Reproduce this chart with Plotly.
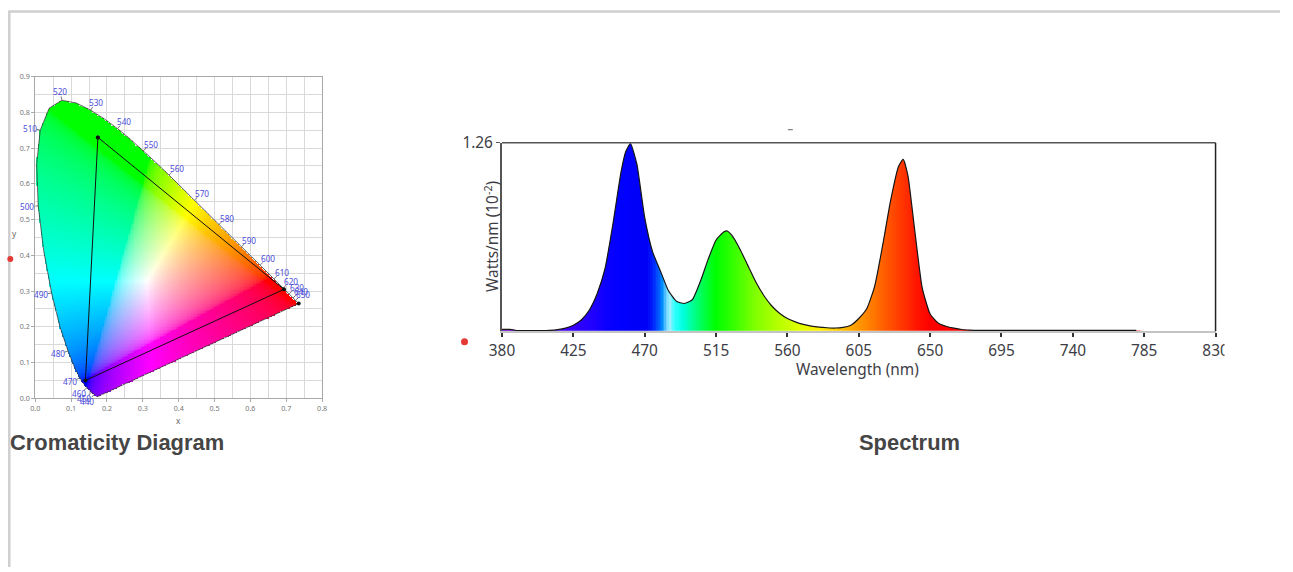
import numpy as np
import plotly.graph_objects as go

W, H = 1293, 572

# ---------------- CIE 1931 chromaticity data ----------------
locus_nm = list(range(380, 705, 5))
locus_x = [0.1741, 0.1740, 0.1738, 0.1736, 0.1733, 0.1730, 0.1726, 0.1721, 0.1714,
           0.1703, 0.1689, 0.1669, 0.1644, 0.1611, 0.1566, 0.1510, 0.1440, 0.1355, 0.1241,
           0.1096, 0.0913, 0.0687, 0.0454, 0.0235, 0.0082, 0.0039, 0.0139, 0.0389, 0.0743,
           0.1142, 0.1547, 0.1929, 0.2296, 0.2658, 0.3016, 0.3373, 0.3731, 0.4087, 0.4441,
           0.4788, 0.5125, 0.5448, 0.5752, 0.6029, 0.6270, 0.6482, 0.6658, 0.6801, 0.6915,
           0.7006, 0.7079, 0.7140, 0.7190, 0.7230, 0.7260, 0.7283, 0.7300, 0.7311, 0.7320,
           0.7327, 0.7334, 0.7340, 0.7344, 0.7346, 0.7347]
locus_y = [0.0050, 0.0050, 0.0049, 0.0049, 0.0048, 0.0048, 0.0048, 0.0048, 0.0051,
           0.0058, 0.0069, 0.0086, 0.0109, 0.0138, 0.0177, 0.0227, 0.0297, 0.0399, 0.0578,
           0.0868, 0.1327, 0.2007, 0.2950, 0.4127, 0.5384, 0.6548, 0.7502, 0.8120, 0.8338,
           0.8262, 0.8059, 0.7816, 0.7543, 0.7243, 0.6923, 0.6589, 0.6245, 0.5896, 0.5547,
           0.5202, 0.4866, 0.4544, 0.4242, 0.3965, 0.3725, 0.3514, 0.3340, 0.3197, 0.3083,
           0.2993, 0.2920, 0.2859, 0.2809, 0.2770, 0.2740, 0.2717, 0.2700, 0.2689, 0.2680,
           0.2673, 0.2666, 0.2660, 0.2656, 0.2654, 0.2653]
label_nm = [440, 450, 460, 470, 480, 490, 500, 510, 520, 530, 540, 550, 560, 570,
            580, 590, 600, 610, 620, 630, 640, 650]
tri_x = [0.1746, 0.6936, 0.1400]
tri_y = [0.7300, 0.3050, 0.0500]
cie_ticks = [0.0, 0.1, 0.2, 0.3, 0.4, 0.5, 0.6, 0.7, 0.8]
cie_yticks = [0.0, 0.1, 0.2, 0.3, 0.4, 0.5, 0.6, 0.7, 0.8, 0.9]

# ---------------- Spectrum data ----------------
spec_nm = [380, 385, 390, 395, 400, 405, 410, 415, 420, 425, 430, 435, 440, 445, 450,
           455, 458, 461, 465, 470, 475, 480, 485, 490, 495, 500, 505, 510, 515, 520,
           522, 525, 530, 535, 540, 545, 550, 555, 560, 565, 570, 575, 580, 585, 590,
           595, 600, 605, 610, 615, 620, 625, 630, 633, 636, 640, 645, 650, 655, 660,
           665, 670, 675, 680, 690, 700, 710, 720, 730, 740, 750, 760, 770, 780,
           785, 790, 800, 810, 820, 830]
spec_val = [0.012, 0.012, 0.004, 0.003, 0.003, 0.003, 0.005, 0.010, 0.020, 0.040, 0.075,
            0.14, 0.25, 0.42, 0.72, 1.06, 1.20, 1.255, 1.12, 0.76, 0.53, 0.40, 0.27, 0.20,
            0.185, 0.21, 0.33, 0.48, 0.61, 0.665, 0.67, 0.64, 0.55, 0.44, 0.33, 0.24, 0.17,
            0.12, 0.085, 0.062, 0.045, 0.034, 0.027, 0.023, 0.021, 0.025, 0.04, 0.085, 0.15,
            0.30, 0.57, 0.87, 1.10, 1.15, 1.04, 0.70, 0.29, 0.115, 0.055, 0.033, 0.02,
            0.011, 0.007, 0.005, 0.005, 0.005, 0.005, 0.005, 0.005, 0.005, 0.005, 0.005,
            0.005, 0.005, 0.0, 0.0, 0.0, 0.0, 0.0, 0.0]
spec_xticks = [380, 425, 470, 515, 560, 605, 650, 695, 740, 785, 830]
spec_ymax = 1.26

# spectral colour stops (style)
color_stops = [(380, '#6a00d0'), (405, '#5500e0'), (422, '#3c00f8'), (435, '#2400ff'),
               (448, '#0800ff'), (455, '#0000ff'), (472, '#0000f5'), (477, '#0038ff'),
               (481, '#0088ff'), (484, '#70d4ff'), (486, '#98eeff'), (489, '#30ffff'),
               (494, '#00ffe0'), (500, '#00ff9a'), (508, '#00ff40'), (515, '#00ff00'),
               (525, '#30ff00'), (540, '#80ff00'), (555, '#b8ff00'), (568, '#e0ff00'),
               (580, '#ffee00'), (592, '#ffc800'), (602, '#ffa000'), (612, '#ff8000'),
               (622, '#ff5a00'), (632, '#ff3800'), (642, '#ff1400'), (650, '#ff0000'),
               (830, '#ff0000')]

# ---------------- geometry (reference pixels -> figure paper coords) ----------------
KX, OX, KY, OY = 0.9805, 12.7, 0.970, 11.5   # page-to-photo mapping of the viewer
FS = 1 / 0.975


def fx(px):
    return (px - OX) / KX


def fy(py):
    return (py - OY) / KY


def xp(px):
    return fx(px) / W


def yp(py):
    return 1 - fy(py) / H


CIE_L, CIE_R, CIE_B, CIE_T = 35, 322, 398, 77
SP_L, SP_R, SP_B, SP_T = 502, 1216, 331, 143
SX = (fx(CIE_R) - fx(CIE_L)) / 0.8
SY = (fy(CIE_B) - fy(CIE_T)) / 0.9

# ---------------- chromaticity image ----------------
step = 0.004
gx = step / 2 + step * np.arange(int(round(0.8 / step)))
gy = step / 2 + step * np.arange(int(round(0.9 / step)))
PX, PY = np.meshgrid(gx, gy)
vx = np.array(locus_x)
vy = np.array(locus_y)
inside = np.zeros(PX.shape, bool)
n = len(vx)
j = n - 1
for i in range(n):
    xi, yi, xj, yj = vx[i], vy[i], vx[j], vy[j]
    cond = (yi > PY) != (yj > PY)
    with np.errstate(divide='ignore', invalid='ignore'):
        xint = (xj - xi) * (PY - yi) / (yj - yi) + xi
    inside ^= cond & (PX < xint)
    j = i
Yv = 1.0
Xv = PX / PY
Zv = (1 - PX - PY) / PY
R = 3.2406 * Xv - 1.5372 * Yv - 0.4986 * Zv
G = -0.9689 * Xv + 1.8758 * Yv + 0.0415 * Zv
B = 0.0557 * Xv - 0.2040 * Yv + 1.0570 * Zv
rgb = np.clip(np.stack([R, G, B], axis=-1), 0, None)
mx = rgb.max(axis=-1, keepdims=True)
mx[mx == 0] = 1
rgb = (rgb / mx) ** 0.85
rgb = np.where(rgb <= 0.0031308, 12.92 * rgb, 1.055 * np.power(rgb, 1 / 2.4) - 0.055)
rgb8 = np.clip(np.round(rgb * 255), 0, 255).astype(int)
alpha = inside.astype(int)[..., None]
rgba = np.concatenate([rgb8, alpha], axis=-1)

fig = go.Figure()
fig.add_trace(go.Image(z=rgba.tolist(), colormodel='rgba', x0=gx[0], dx=step,
                       y0=gy[0], dy=step, xaxis='x', yaxis='y', hoverinfo='skip'))

# locus outline
fig.add_trace(go.Scatter(x=locus_x + [locus_x[0]], y=locus_y + [locus_y[0]], mode='lines',
                         line=dict(color='#3a3a3a', width=0.8), hoverinfo='skip',
                         showlegend=False, xaxis='x', yaxis='y'))

# labels and ticks on the locus
annotations = []
tick_x, tick_y = [], []
for nm in label_nm:
    i = locus_nm.index(nm)
    x0, y0 = locus_x[i], locus_y[i]
    tx = (locus_x[i + 1] - locus_x[i - 1]) * SX
    ty = -(locus_y[i + 1] - locus_y[i - 1]) * SY
    L = (tx ** 2 + ty ** 2) ** 0.5
    nx, ny = ty / L, -tx / L
    annotations.append(dict(x=x0, y=y0, xref='x', yref='y', text=str(nm), showarrow=False,
                            xanchor='center', yanchor='middle',
                            xshift=nx * 11, yshift=-ny * 9,
                            font=dict(size=8 * FS, color='#4b4bd8', family='Noto Sans')))
    tick_x += [x0, x0 + nx * 4 / SX, None]
    tick_y += [y0, y0 - ny * 4 / SY, None]
fig.add_trace(go.Scatter(x=tick_x, y=tick_y, mode='lines', line=dict(color='#555', width=0.8),
                         hoverinfo='skip', showlegend=False, xaxis='x', yaxis='y'))

# gamut triangle
fig.add_trace(go.Scatter(x=tri_x + [tri_x[0]], y=tri_y + [tri_y[0]], mode='lines+markers',
                         line=dict(color='#111', width=1), marker=dict(size=4, color='#111'),
                         hoverinfo='skip', showlegend=False, xaxis='x', yaxis='y'))
fig.add_trace(go.Scatter(x=[locus_x[-1]], y=[locus_y[-1]], mode='markers',
                         marker=dict(size=4, color='#111'), hoverinfo='skip',
                         showlegend=False, xaxis='x', yaxis='y'))

# ---------------- spectrum ----------------
def hex2rgb(h):
    return [int(h[k:k + 2], 16) for k in (1, 3, 5)]


stop_nm = [s[0] for s in color_stops]
stop_rgb = np.array([hex2rgb(s[1]) for s in color_stops], float)
wl = np.arange(380, 831)
band = np.stack([np.interp(wl, stop_nm, stop_rgb[:, c]) for c in range(3)], axis=-1)
band = np.round(band).astype(int)
fig.add_trace(go.Image(z=[band.tolist()], colormodel='rgb', x0=380, dx=1,
                       y0=spec_ymax / 2, dy=spec_ymax, xaxis='x2', yaxis='y2',
                       hoverinfo='skip'))
fig.add_trace(go.Scatter(x=[380, 830], y=[1.5, 1.5], mode='lines', line=dict(width=0),
                         hoverinfo='skip', showlegend=False, xaxis='x2', yaxis='y2'))
fig.add_trace(go.Scatter(x=spec_nm, y=spec_val, mode='lines', fill='tonexty',
                         fillcolor='white', line=dict(width=0, shape='spline', smoothing=0.5),
                         hoverinfo='skip', showlegend=False, xaxis='x2', yaxis='y2'))
n_line = sum(1 for v in spec_nm if v <= 780)
fig.add_trace(go.Scatter(x=spec_nm[:n_line], y=spec_val[:n_line], mode='lines',
                         line=dict(color='#151515', width=1.2, shape='spline', smoothing=0.5),
                         hoverinfo='skip', showlegend=False, xaxis='x2', yaxis='y2'))

# ---------------- text ----------------
def note(px, py, text, size, color, family, **kw):
    d = dict(x=xp(px), y=yp(py), xref='paper', yref='paper', text=text, showarrow=False,
             xanchor='center', yanchor='middle',
             font=dict(size=size, color=color, family=family))
    d.update(kw)
    return d


annotations += [
    note(178, 420, 'x', 8 * FS, '#666', 'Noto Sans'),
    note(14, 234, 'y', 8 * FS, '#666', 'Noto Sans'),
    note(858, 369, 'Wavelength (nm)', 15 * FS, '#3d3d45', 'Noto Sans'),
    note(492, 237, 'Watts/nm (10<sup>-2</sup>)', 15 * FS, '#3d3d45', 'Noto Sans', textangle=-90),
    note(8, 442, '<b>Cromaticity Diagram</b>', 21.9, '#454545', 'Liberation Sans',
         xanchor='left'),
    note(910, 442, '<b>Spectrum</b>', 21.9, '#454545', 'Liberation Sans'),
]

shapes = [
    # page frame
    dict(type='line', xref='paper', yref='paper', x0=xp(8), x1=1, y0=yp(12), y1=yp(12),
         line=dict(color='#cfcfcf', width=2.5)),
    dict(type='line', xref='paper', yref='paper', x0=xp(9), x1=xp(9), y0=yp(12), y1=0,
         line=dict(color='#cfcfcf', width=2.5)),
    # spectrum frame top / right
    dict(type='line', xref='x2 domain', yref='y2 domain', x0=0, x1=1, y0=1, y1=1,
         line=dict(color='#555', width=1.5)),
    dict(type='line', xref='x2 domain', yref='y2 domain', x0=1, x1=1, y0=0, y1=1,
         line=dict(color='#222', width=1.5)),
    # clipped last tick label
    dict(type='rect', xref='paper', yref='paper', x0=xp(1225), x1=1, y0=yp(362), y1=yp(337),
         fillcolor='white', line=dict(width=0), layer='above'),
    # small dash above spectrum
    dict(type='line', xref='paper', yref='paper', x0=xp(788), x1=xp(793), y0=yp(130), y1=yp(130),
         line=dict(color='#666', width=1)),
    # red marks
    dict(type='circle', xref='paper', yref='paper', x0=xp(7), x1=xp(13), y0=yp(262), y1=yp(256),
         fillcolor='#e53935', line=dict(width=0)),
    dict(type='circle', xref='paper', yref='paper', x0=xp(461), x1=xp(468), y0=yp(345), y1=yp(338),
         fillcolor='#e53935', line=dict(width=0)),
]

cie_axis = dict(showgrid=True, gridcolor='#d9d9d9', gridwidth=1, zeroline=False,
                showline=True, linecolor='#a8a8a8', linewidth=1, mirror=True,
                ticks='outside', ticklen=3, tickcolor='#aaa', tickformat='.1f',
                tickfont=dict(size=7 * FS, color='#777', family='Noto Sans'),
                minor=dict(dtick=0.05, showgrid=True, gridcolor='#d9d9d9', gridwidth=1),
                fixedrange=True)

fig.update_layout(
    width=W, height=H, autosize=False,
    margin=dict(l=0, r=0, t=0, b=0),
    paper_bgcolor='white', plot_bgcolor='white',
    showlegend=False,
    xaxis=dict(cie_axis, domain=[xp(CIE_L), xp(CIE_R)], range=[0, 0.8], tickvals=cie_ticks,
               anchor='y'),
    yaxis=dict(cie_axis, domain=[yp(CIE_B), yp(CIE_T)], range=[0, 0.9], tickvals=cie_yticks,
               anchor='x', scaleanchor=False),
    xaxis2=dict(domain=[xp(SP_L), xp(SP_R)], range=[380, 830], tickvals=spec_xticks,
                anchor='y2', showgrid=False, zeroline=False, showline=True,
                linecolor='#c4c4c4', linewidth=2, ticks='outside', ticklen=4,
                tickcolor='#333', tickwidth=1.5,
                tickfont=dict(size=15 * FS, color='#3d3d45', family='Noto Sans'),
                fixedrange=True),
    yaxis2=dict(domain=[yp(SP_B), yp(SP_T)], range=[0, spec_ymax], tickvals=[spec_ymax],
                ticktext=['1.26'], anchor='x2', showgrid=False, zeroline=False, showline=True,
                linecolor='#555', linewidth=2, ticks='outside', ticklen=4, tickcolor='#555',
                tickfont=dict(size=15 * FS, color='#3d3d45', family='Noto Sans'),
                scaleanchor=False, fixedrange=True),
    annotations=annotations,
    shapes=shapes,
)

post = ("document.documentElement.style.margin='0';document.documentElement.style.padding='0';"
        "document.documentElement.style.overflow='hidden';"
        "document.body.style.margin='0';document.body.style.padding='0';"
        "document.body.style.overflow='hidden';")
fig.write_html('out.html', post_script=post, config={'displayModeBar': False})
